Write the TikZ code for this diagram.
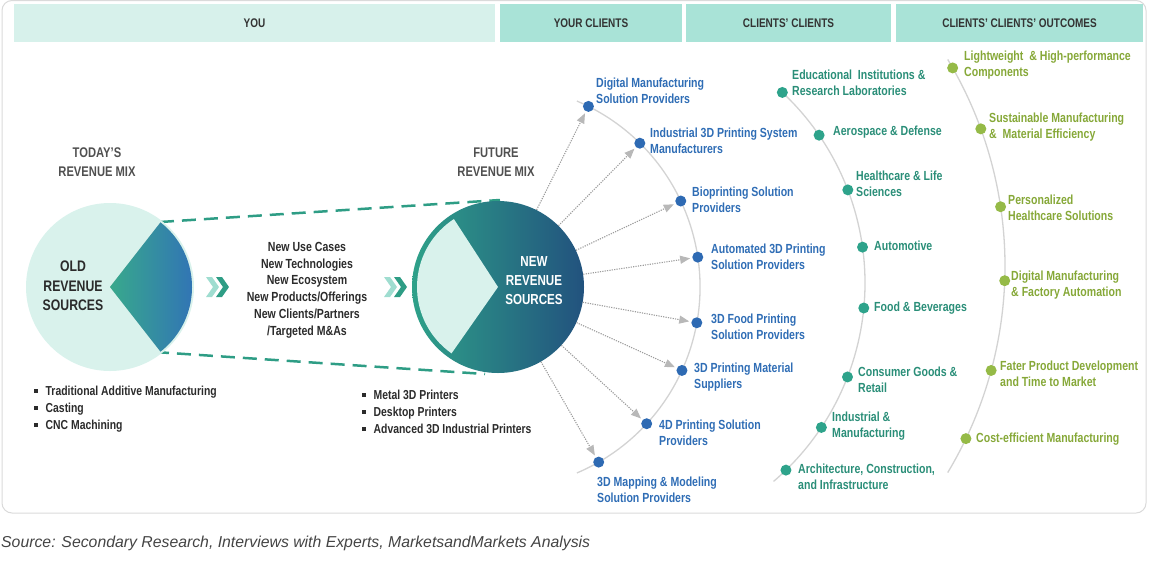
\documentclass[tikz,border=0pt]{standalone}
\usepackage{fontspec}
\setmainfont{Liberation Sans}[FakeStretch=0.8]
\newfontfamily\srcfont{Liberation Sans}
\usepackage{tikz}
\usetikzlibrary{calc}
\usetikzlibrary{arrows.meta}

\definecolor{hdrlight}{HTML}{D7F1EB}
\definecolor{hdrdark}{HTML}{A9E3D7}
\definecolor{hdrtext}{HTML}{333333}
\definecolor{framegray}{HTML}{DADADA}
\definecolor{oldfill}{HTML}{D9F2EC}
\definecolor{wedgeL}{HTML}{38A98C}
\definecolor{wedgeR}{HTML}{3173B6}
\definecolor{newL}{HTML}{2EA189}
\definecolor{newR}{HTML}{22527E}
\definecolor{dashteal}{HTML}{2E9D85}
\definecolor{chevlight}{HTML}{9FDDD0}
\definecolor{chevdark}{HTML}{2E9D85}
\definecolor{darktext}{HTML}{2B2B2B}
\definecolor{graytext}{HTML}{505050}
\definecolor{arcgray}{HTML}{D3D3D3}
\definecolor{raygray}{HTML}{9C9C9C}
\definecolor{tipgray}{HTML}{B8B8B8}
\definecolor{txtblue}{HTML}{2F6DB5}
\definecolor{dotblue}{HTML}{2E6AB3}
\definecolor{txtgreen}{HTML}{2A8E78}
\definecolor{dotgreen}{HTML}{2EA38B}
\definecolor{txtolive}{HTML}{86A838}
\definecolor{dotolive}{HTML}{95BA47}
\definecolor{srcgray}{HTML}{444444}

\newcommand\sqbul{\raisebox{0.22em}{\rule{3.5pt}{3.5pt}}\hspace{8pt}}

\begin{document}
\begin{tikzpicture}[x=1pt,y=-1pt,
    hdr/.style={minimum height=38pt, inner sep=0, font=\bfseries\fontsize{12.5}{14}\selectfont, text=hdrtext},
    cdot/.style={circle, fill=#1, inner sep=0, minimum size=11pt},
    lab/.style={anchor=west, align=left, inner sep=0, font=\bfseries\fontsize{13.2}{16.5}\selectfont, text=#1},
    ray/.style={draw=raygray, line width=1.1pt, dash pattern=on 1.2pt off 1.2pt, -{Triangle[length=10pt,width=8pt,color=tipgray]}, shorten >=2pt},
    ring/.style={draw=arcgray, line width=1.3pt},
    dashln/.style={draw=dashteal, line width=2.5pt, dash pattern=on 14pt off 8pt},
    chev/.pic={\fill (0,-10) -- (6,-10) -- (13,0) -- (6,10) -- (0,10) -- (7,0) -- cycle;}]

    \useasboundingbox (0,0) rectangle (1150,565);

    % Frame and header bar
    \draw[framegray, line width=1pt, rounded corners=10pt] (2,0.5) rectangle (1146,513);
    \node[hdr, fill=hdrlight, minimum width=481pt] (hyou) at (254.5,23) {YOU};
    \node[hdr, fill=hdrdark, minimum width=182pt] (hcli) at (591,23) {YOUR CLIENTS};
    \node[hdr, fill=hdrdark, minimum width=205pt] (hcc) at (788.5,23) {CLIENTS' CLIENTS};
    \node[hdr, fill=hdrdark, minimum width=247pt] (hout) at (1019.5,23) {CLIENTS' CLIENTS' OUTCOMES};

    % Key points of the two revenue circles
    \coordinate (wtop) at (160,222);
    \coordinate (wbot) at (155,352);
    \coordinate (ntop) at (500,200);
    \coordinate (nbot) at (485,374);

    % Dashed lines between the circles
    \draw[dashln] (wtop) -- (ntop);
    \draw[dashln] (wbot) -- (nbot);

    % Today's revenue mix
    \node[circle, fill=oldfill, minimum size=168pt, inner sep=0] (oldsrc) at (110,287) {};
    \fill[black, opacity=0.12, shift={(2,3)}] (oldsrc.center) -- ($(oldsrc.center)+(-52:82)$) arc[start angle=-52, end angle=52, radius=82] -- cycle;
    \shade[left color=wedgeL, right color=wedgeR] (oldsrc.center) -- ($(oldsrc.center)+(-52:82)$) arc[start angle=-52, end angle=52, radius=82] -- cycle;
    \node[align=center, font=\bfseries\fontsize{15.3}{19.5}\selectfont, text=darktext] (oldtxt) at (73,286) {OLD\\REVENUE\\SOURCES};
    \node[align=center, font=\bfseries\fontsize{14}{19}\selectfont, text=graytext] (today) at (97,162) {TODAY'S\\REVENUE MIX};

    % Future revenue mix
    \node[circle, left color=newL, right color=newR, minimum size=172pt, inner sep=0] (newsrc) at (498,287) {};
    \fill[oldfill] (newsrc.center) -- ($(newsrc.center)+(125:81)$) arc[start angle=125, end angle=237, radius=81] -- cycle;
    \node[align=center, font=\bfseries\fontsize{14.5}{19}\selectfont, text=white] (newtxt) at (534,281) {NEW\\REVENUE\\SOURCES};
    \node[align=center, font=\bfseries\fontsize{14}{19}\selectfont, text=graytext] (future) at (496,162) {FUTURE\\REVENUE MIX};

    % Chevrons
    \foreach \x in {206,384} {
        \path[chevlight] (\x,287) pic {chev};
        \path[chevdark] (\x+10,287) pic {chev};
    }

    % Drivers
    \node[align=center, font=\bfseries\fontsize{13.2}{16.8}\selectfont, text=darktext] (drivers) at (307,290)
        {New Use Cases\\New Technologies\\New Ecosystem\\New Products/Offerings\\New Clients/Partners\\/Targeted M\&As};

    % Bullet lists
    \node[anchor=north west, align=left, inner sep=0, font=\bfseries\fontsize{13}{17}\selectfont, text=darktext] (oldlist) at (34,386)
        {\sqbul Traditional Additive Manufacturing\\\sqbul Casting\\\sqbul CNC Machining};
    \node[anchor=north west, align=left, inner sep=0, font=\bfseries\fontsize{13}{17}\selectfont, text=darktext] (newlist) at (362,390)
        {\sqbul Metal 3D Printers\\\sqbul Desktop Printers\\\sqbul Advanced 3D Industrial Printers};

    % Your clients
    \draw[ring] ($(newsrc.center)+(-67:202)$) arc[start angle=-67, end angle=67, radius=202];
    \foreach \a [count=\i] in {-63.4,-45.4,-25.2,-8.5,10.2,24.4,42.6,60.1} {
        \node[cdot=dotblue] (c\i) at ($(newsrc.center)+(\a:202)$) {};
        \draw[ray] (newsrc) -- (c\i);
    }
    \node[lab=txtblue] (lc1) at (596,91) {Digital Manufacturing\\Solution Providers};
    \node[lab=txtblue] (lc2) at (650,141) {Industrial 3D Printing System\\Manufacturers};
    \node[lab=txtblue] (lc3) at (692,200) {Bioprinting Solution\\Providers};
    \node[lab=txtblue] (lc4) at (711,257) {Automated 3D Printing\\Solution Providers};
    \node[lab=txtblue] (lc5) at (711,327) {3D Food Printing\\Solution Providers};
    \node[lab=txtblue] (lc6) at (694,377) {3D Printing Material\\Suppliers};
    \node[lab=txtblue] (lc7) at (659,433) {4D Printing Solution\\Providers};
    \node[lab=txtblue] (lc8) at (597,490) {3D Mapping \& Modeling\\Solution Providers};

    % Clients' clients
    \coordinate (cc) at (604,283);
    \draw[ring] ($(cc)+(-48:261)$) arc[start angle=-48, end angle=49.5, radius=261];
    \foreach \a [count=\i] in {-46.9,-34.5,-20.9,-7.9,5.5,21.1,33.6,45.8} {
        \node[cdot=dotgreen] (e\i) at ($(cc)+(\a:261)$) {};
    }
    \node[lab=txtgreen] (le1) at (792,83) {Educational\ \ Institutions \&\\Research Laboratories};
    \node[lab=txtgreen] (le2) at (833,132) {Aerospace \& Defense};
    \node[lab=txtgreen] (le3) at (856,184) {Healthcare \& Life\\Sciences};
    \node[lab=txtgreen] (le4) at (874,246) {Automotive};
    \node[lab=txtgreen] (le5) at (874,308) {Food \& Beverages};
    \node[lab=txtgreen] (le6) at (858,380) {Consumer Goods \&\\Retail};
    \node[lab=txtgreen] (le7) at (832,426) {Industrial \&\\Manufacturing};
    \node[lab=txtgreen] (le8) at (798,477) {Architecture, Construction,\\and Infrastructure};

    % Clients' clients' outcomes
    \coordinate (oc) at (604,266);
    \draw[ring] ($(oc)+(-31:401)$) arc[start angle=-31, end angle=31, radius=401];
    \foreach \a [count=\i] in {-29.6,-20.0,-8.5,2.1,15.1,25.5} {
        \node[cdot=dotolive] (o\i) at ($(oc)+(\a:401)$) {};
    }
    \node[lab=txtolive] (lo1) at (964,65) {Lightweight\ \ \& High-performance\\Components};
    \node[lab=txtolive] (lo2) at (989,127) {Sustainable Manufacturing\\\&\ \ Material Efficiency};
    \node[lab=txtolive] (lo3) at (1008,208) {Personalized\\Healthcare Solutions};
    \node[lab=txtolive] (lo4) at (1011,285) {Digital Manufacturing\\\& Factory Automation};
    \node[lab=txtolive] (lo5) at (1000,374) {Fater Product Development\\and Time to Market};
    \node[lab=txtolive] (lo6) at (976,439) {Cost-efficient Manufacturing};

    % Source line
    \node[anchor=west, inner sep=0, font=\srcfont\itshape\fontsize{15.8}{17}\selectfont, text=srcgray] (src) at (1,543)
        {Source: Secondary Research, Interviews with Experts, MarketsandMarkets Analysis};

\end{tikzpicture}
\end{document}
